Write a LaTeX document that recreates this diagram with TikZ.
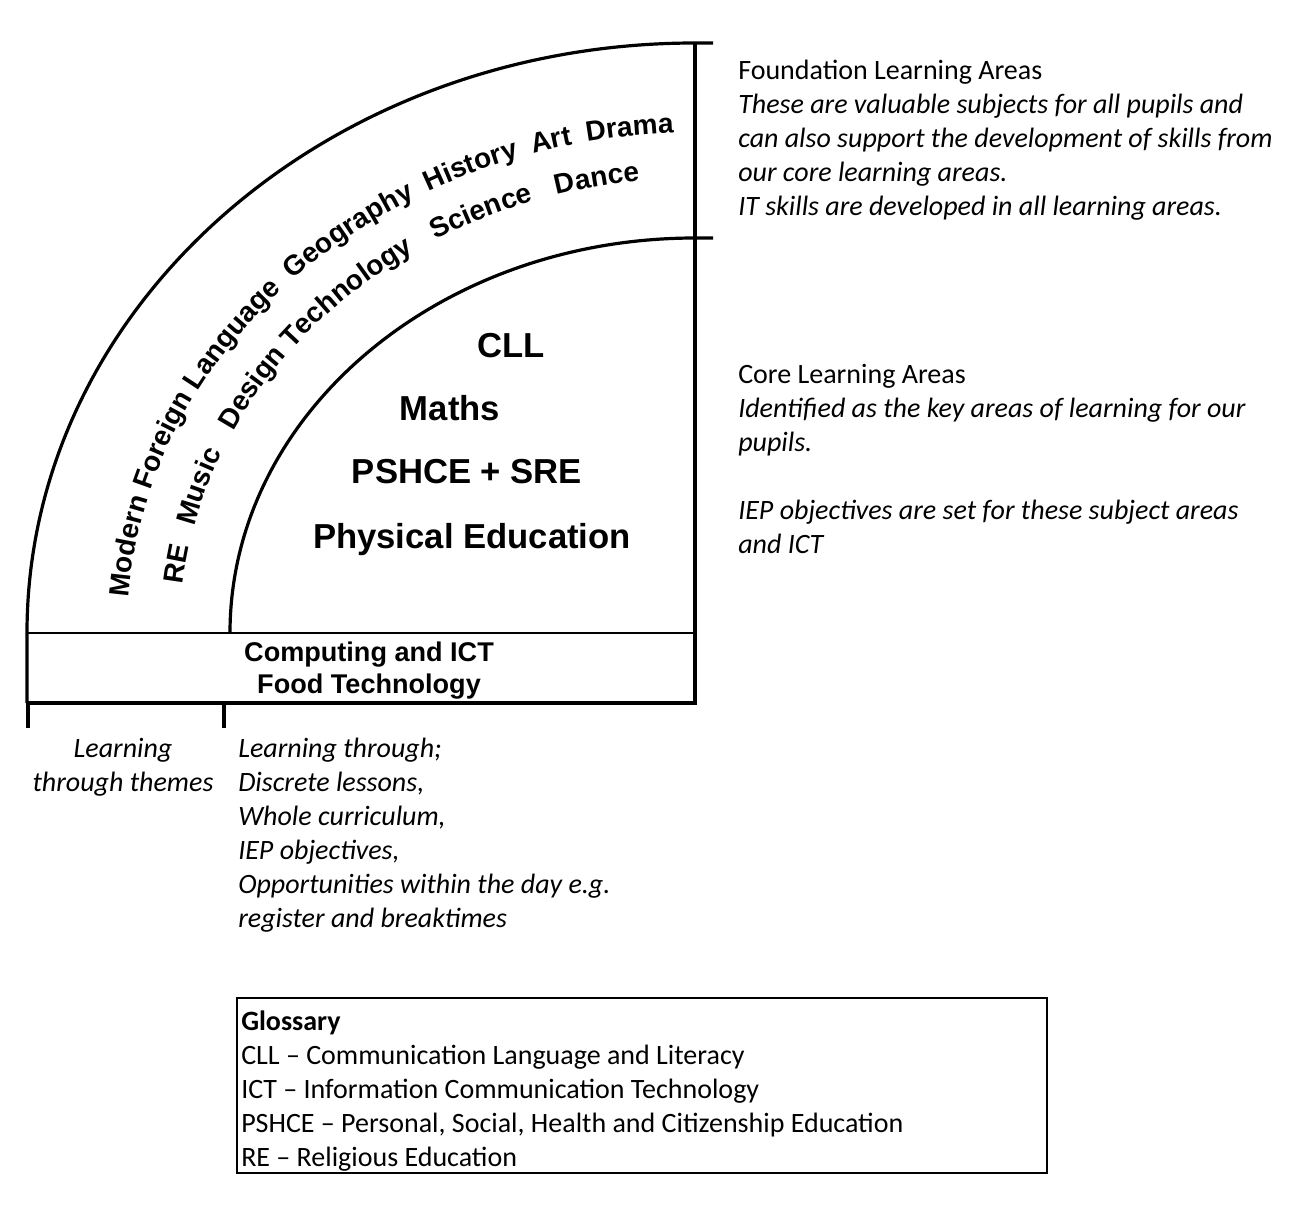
\documentclass[tikz,border=0pt]{standalone}
\usepackage{fontspec}
\setmainfont{Carlito}
\setsansfont{Liberation Sans}
\usetikzlibrary{calc,decorations.text}
\tikzset{
  rim/.style={line width=2.4pt},
  seam/.style={line width=1.9pt},
  box/.style={line width=1.5pt},
  core/.style={font=\sffamily\bfseries\fontsize{26}{30}\selectfont, anchor=base, inner sep=0pt},
  band/.style={font=\sffamily\bfseries\fontsize{20.3}{24}\selectfont, align=center, anchor=base, inner sep=0pt},
  note/.style={font=\fontsize{21}{25.5}\selectfont, align=left, anchor=base west, inner sep=0pt},
  arcword/.style={decorate, decoration={text along path, text align=left, text={#1}}},
}

\begin{document}
\begin{tikzpicture}[x=0.75pt, y=0.75pt]
  \useasboundingbox (0,0) rectangle (1296,-1206);
  \coordinate (c) at (695,-633);

  % quadrant outline
  \draw[rim] (27,-703) -- (27,-633) arc[start angle=180, end angle=90, x radius=668, y radius=590] -- (713,-43);
  \draw[rim] (695,-43) -- (695,-703) -- (27,-703);
  \draw[rim] (230,-633) arc[start angle=180, end angle=90, x radius=465, y radius=395] -- (713,-238);
  \draw[seam] (27,-633) -- (695,-633);
  \draw[rim] (28,-703) -- (28,-728) (224,-703) -- (224,-728);

  % foundation subjects round the band
  \path[arcword={|\sffamily\bfseries\fontsize{21}{24}\selectfont|Modern Foreign Language{\hspace{11pt}}Geography{\hspace{11pt}}History{\hspace{11pt}}Art{\hspace{11pt}}Drama}]
    ($(c)+(175.9:568 and 500)$) arc[start angle=175.9, end angle=90, x radius=568, y radius=500];
  \path[arcword={|\sffamily\bfseries\fontsize{21}{24}\selectfont|RE{\hspace{15pt}}Music{\hspace{18pt}}Design Technology{\hspace{18pt}}Science{\hspace{18pt}}Dance}]
    ($(c)+(173.9:515 and 455)$) arc[start angle=173.9, end angle=90, x radius=515, y radius=455];

  % core subjects
  \node[core] (cll) at (511,-357) {CLL};
  \node[core] (maths) at (450,-420) {Maths};
  \node[core] (pshce) at (467,-483) {PSHCE + SRE};
  \node[core] (pe) at (472,-548) {Physical Education};
  \node[band] (ict) at (369,-693) {Computing and ICT\\Food Technology};

  % side notes
  \node[note] (found) at (738,-215) {Foundation Learning Areas\\
    \textit{These are valuable subjects for all pupils and}\\
    \textit{can also support the development of skills from}\\
    \textit{our core learning areas.}\\
    \textit{IT skills are developed in all learning areas.}};
  \node[note] (corenote) at (738,-553) {Core Learning Areas\\
    \textit{Identified as the key areas of learning for our}\\
    \textit{pupils.}\\[25.5pt]
    \textit{IEP objectives are set for these subject areas}\\
    \textit{and ICT}};
  \node[note, align=center, anchor=base] (themes) at (123,-791) {\textit{Learning}\\\textit{through themes}};
  \node[note] (ways) at (238,-927) {\textit{Learning through;}\\
    \textit{Discrete lessons,}\\
    \textit{Whole curriculum,}\\
    \textit{IEP objectives,}\\
    \textit{Opportunities within the day e.g.}\\
    \textit{register and breaktimes}};

  % glossary
  \draw[box] (237,-998) rectangle (1047,-1173);
  \node[note] (gloss) at (241,-1166) {\textbf{Glossary}\\
    CLL – Communication Language and Literacy\\
    ICT – Information Communication Technology\\
    PSHCE – Personal, Social, Health and Citizenship Education\\
    RE – Religious Education};
\end{tikzpicture}
\end{document}
